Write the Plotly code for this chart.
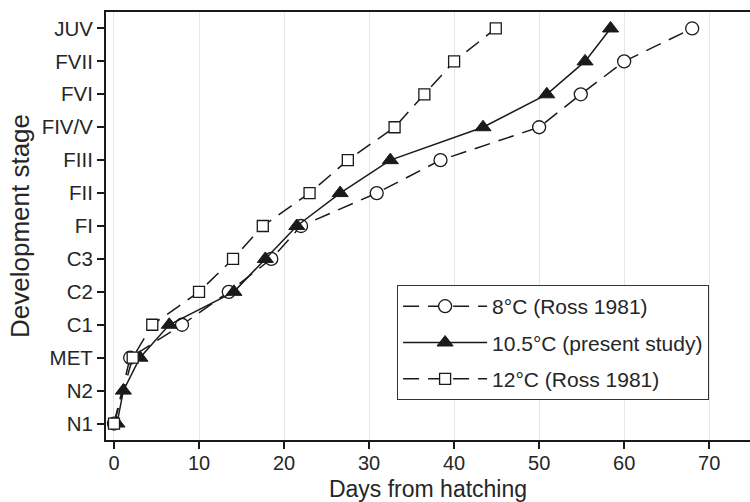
import plotly.graph_objects as go

stages = ["N1", "N2", "MET", "C1", "C2", "C3", "FI", "FII", "FIII", "FIV/V", "FVI", "FVII", "JUV"]

# 8°C (Ross 1981)
stages_8 = ["N1", "MET", "C1", "C2", "C3", "FI", "FII", "FIII", "FIV/V", "FVI", "FVII", "JUV"]
days_8 = [0.0, 1.9, 8.0, 13.5, 18.5, 22.0, 30.9, 38.4, 50.0, 54.9, 60.0, 68.0]

# 10.5°C (present study)
stages_105 = ["N1", "N2", "MET", "C1", "C2", "C3", "FI", "FII", "FIII", "FIV/V", "FVI", "FVII", "JUV"]
days_105 = [0.35, 1.1, 3.05, 6.5, 14.1, 17.8, 21.5, 26.6, 32.5, 43.4, 50.9, 55.4, 58.4]

# 12°C (Ross 1981)
stages_12 = ["N1", "MET", "C1", "C2", "C3", "FI", "FII", "FIII", "FIV/V", "FVI", "FVII", "JUV"]
days_12 = [0.0, 2.2, 4.5, 10.0, 14.0, 17.5, 23.0, 27.5, 33.0, 36.5, 40.0, 44.9]

x_ticks = [0, 10, 20, 30, 40, 50, 60, 70]

FONT = "Liberation Sans, Arial, Helvetica, sans-serif"
INK = "#1a1a1a"
TXT = "#262626"

fig = go.Figure()

fig.add_trace(go.Scatter(
    x=days_8, y=stages_8, name="8°C (Ross 1981)", mode="lines+markers",
    legendgroup="a",
    line=dict(color=INK, width=1.5, dash="16px,9px"),
    marker=dict(symbol="circle", size=13, color="white", line=dict(color=INK, width=1.3)),
))
fig.add_trace(go.Scatter(
    x=days_105, y=stages_105, name="10.5°C (present study)", mode="lines+markers",
    legendgroup="b",
    line=dict(color=INK, width=1.5),
    marker=dict(symbol="triangle-up", size=14, color=INK, line=dict(color=INK, width=1)),
))
fig.add_trace(go.Scatter(
    x=days_12, y=stages_12, name="12°C (Ross 1981)", mode="lines+markers",
    legendgroup="c",
    line=dict(color=INK, width=1.5, dash="16px,9px"),
    marker=dict(symbol="square", size=11, color="white", line=dict(color=INK, width=1.3)),
))

fig.update_layout(
    width=750, height=502,
    margin=dict(l=106, r=0, t=12, b=62),
    paper_bgcolor="white", plot_bgcolor="white",
    font=dict(family=FONT, size=20, color=TXT),
    showlegend=True,
    legend=dict(
        x=0.452, y=0.362, xanchor="left", yanchor="top",
        bgcolor="white", bordercolor="#333333", borderwidth=1,
        font=dict(size=21, family=FONT, color=TXT),
        traceorder="grouped", tracegroupgap=6, itemwidth=84,
    ),
    xaxis=dict(
        range=[-0.94, 74.8], tickmode="array", tickvals=x_ticks,
        showgrid=True, gridcolor="#e6e6e6", gridwidth=1, zeroline=False,
        showline=True, linecolor=INK, linewidth=2, mirror=True,
        ticks="outside", ticklen=7, tickwidth=2, tickcolor=INK,
        tickfont=dict(size=20, family=FONT, color=TXT),
        ticklabelstandoff=-3,
        automargin=False,
        title=dict(text="Days from hatching", font=dict(size=23, family=FONT, color=TXT), standoff=12),
    ),
    yaxis=dict(
        type="category", categoryorder="array", categoryarray=stages,
        range=[-0.5, 12.5],
        showgrid=False, zeroline=False,
        showline=True, linecolor=INK, linewidth=2,
        ticks="outside", ticklen=7, tickwidth=2, tickcolor=INK,
        tickfont=dict(size=20.5, family=FONT, color=TXT),
        automargin=False,
        title=dict(text="Development stage", font=dict(size=26, family=FONT, color=TXT), standoff=5),
    ),
)

fig.write_html("out.html")
